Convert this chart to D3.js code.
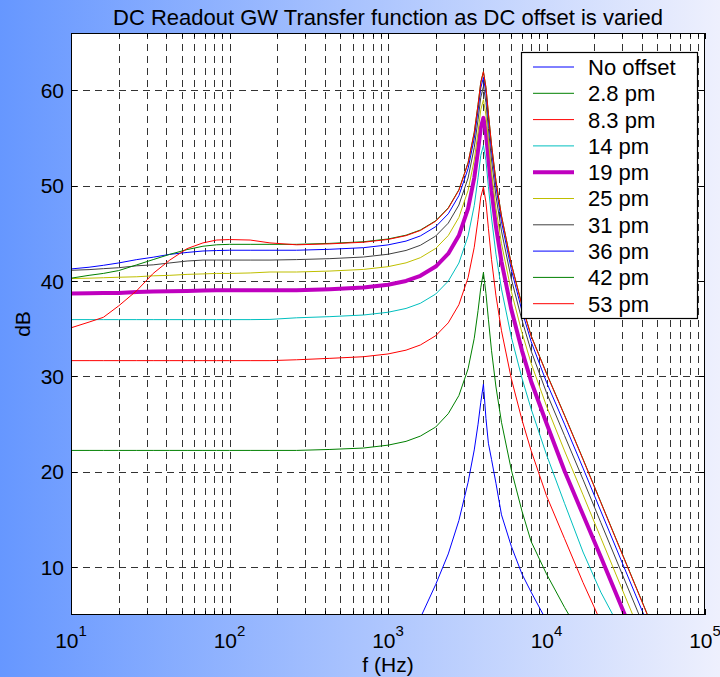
<!DOCTYPE html>
<html><head><meta charset="utf-8">
<script src="https://cdn.jsdelivr.net/npm/d3@7"></script>
<style>body{margin:0;background:#fff} svg{display:block}</style>
</head><body>
<script>
// ---------- data ----------
const freqs = [10, 13, 16, 20, 26, 33, 42, 54, 68, 83, 100, 135, 180, 265, 430, 700, 1000, 1300, 1600, 2000,
  2400, 2800, 3200, 3500, 3700, 3850, 4000, 4150, 4300, 4500, 4800, 5200, 6000, 7000, 8000, 10000,
  13000, 17000, 22000, 30000, 40000, 50000];

const seriesNames = ["No offset", "2.8 pm", "8.3 pm", "14 pm", "19 pm", "25 pm", "31 pm", "36 pm", "42 pm", "53 pm"];
const seriesColors = ["#0000ff", "#008000", "#ff0000", "#00bfbf", "#bf00bf", "#bfbf00", "#404040", "#0000ff", "#008000", "#ff0000"];
const seriesWidths = [1, 1, 1, 1, 4, 1, 1, 1, 1, 1];

const noOffset = [null, null, null, null, null, null, null, null, null, null, null, null, null, null, null, null, null,
  1.5, 4.7, 8.2, 11.4, 14.9, 18.9, 22.3, 25.0, 27.3, 29.2, 25.6, 23.0, 21.3, 18.8, 15.5, 12.2, 9.3, 7.4, 4.4, 0.5,
  null, null, null, null, null];
const pm2_8 = [22.25, 22.25, 22.25, 22.25, 22.25, 22.25, 22.25, 22.25, 22.25, 22.25, 22.25, 22.25, 22.25, 22.25,
  22.35, 22.5, 22.8, 23.2, 23.75, 24.7, 26.1, 28.0, 30.8, 34.0, 36.9, 39.3, 40.9, 38.7, 36.0, 32.7, 28.9, 25.2,
  20.2, 15.9, 12.7, 9.3, 5.8, 2.5, -1, null, null, null];
const pm8_3 = [31.66, 31.66, 31.66, 31.66, 31.66, 31.66, 31.66, 31.66, 31.66, 31.66, 31.66, 31.66, 31.66, 31.75,
  31.9, 32.07, 32.36, 32.76, 33.3, 34.27, 35.62, 37.52, 40.35, 43.54, 46.46, 48.81, 49.86, 48.25, 45.54, 42.24,
  38.45, 34.79, 29.76, 25.46, 22.23, 17.5, 13.0, 8.4, 4.3, -1, null, null];
const pm14 = [35.96, 35.96, 35.96, 35.96, 35.96, 35.96, 35.96, 35.96, 35.96, 35.96, 35.96, 35.96, 35.98, 36.15,
  36.27, 36.44, 36.73, 37.13, 37.67, 38.64, 39.99, 41.89, 44.72, 47.91, 50.83, 53.18, 54.23, 52.62, 49.91, 46.61,
  42.82, 39.16, 34.13, 29.83, 26.6, 21.8, 16.7, 11.6, 7.4, 3.2, -2, null];
const pm19 = [38.7, 38.72, 38.75, 38.75, 38.85, 38.9, 38.92, 38.95, 39.0, 39.05, 39.05, 39.05, 39.05, 39.05,
  39.15, 39.32, 39.61, 40.01, 40.55, 41.52, 42.87, 44.77, 47.6, 50.79, 53.71, 56.06, 57.11, 55.5, 52.79, 49.49,
  45.7, 42.04, 37.01, 32.71, 29.48, 25.1, 20.1, 15.5, 11.1, 5.7, 0.7, null];
const pm25 = [40.26, 40.3, 40.35, 40.4, 40.45, 40.55, 40.6, 40.7, 40.75, 40.8, 40.8, 40.85, 40.95, 40.95,
  41.05, 41.22, 41.51, 41.91, 42.45, 43.42, 44.77, 46.67, 49.5, 52.69, 55.61, 57.96, 59.01, 57.4, 54.69, 51.39,
  47.6, 43.94, 38.91, 34.61, 31.38, 26.9, 22.2, 17.6, 13.1, 7.7, 2.7, null];
const pm31 = [41.13, 41.2, 41.3, 41.4, 41.6, 41.7, 41.9, 42.1, 42.2, 42.2, 42.2, 42.2, 42.2, 42.25,
  42.35, 42.52, 42.81, 43.21, 43.75, 44.72, 46.07, 47.97, 50.8, 53.99, 56.91, 59.26, 60.4, 58.7, 55.99, 52.69,
  48.9, 45.24, 40.21, 35.91, 32.68, 28.3, 23.8, 19.2, 14.7, 9.3, 4.3, 0.4];
const pm36 = [41.27, 41.45, 41.65, 41.9, 42.25, 42.5, 42.8, 43.0, 43.15, 43.2, 43.23, 43.23, 43.23, 43.23,
  43.33, 43.5, 43.79, 44.19, 44.73, 45.7, 47.05, 48.95, 51.78, 54.97, 57.89, 60.24, 61.35, 59.68, 56.97, 53.67,
  49.88, 46.22, 41.19, 36.89, 33.66, 29.4, 25.0, 20.4, 15.9, 10.5, 5.5, 1.6];
const pm42 = [40.3, 40.6, 40.8, 41.1, 41.7, 42.25, 42.8, 43.3, 43.65, 43.8, 43.85, 43.85, 43.85, 43.85,
  43.95, 44.12, 44.41, 44.81, 45.35, 46.32, 47.67, 49.57, 52.4, 55.59, 58.51, 60.86, 61.95, 60.3, 57.59, 54.29,
  50.5, 46.84, 41.81, 37.51, 34.28, 30.35, 25.95, 21.35, 16.85, 11.45, 6.45, 2.55];
const pm53 = [35.1, 35.7, 36.2, 37.4, 39.0, 40.8, 42.2, 43.4, 44.0, 44.3, 44.35, 44.3, 44.0, 43.8,
  43.9, 44.07, 44.36, 44.76, 45.3, 46.27, 47.62, 49.52, 52.35, 55.54, 58.46, 60.81, 61.95, 60.25, 57.54, 54.24,
  50.45, 46.79, 41.76, 37.46, 34.23, 30.3, 25.9, 21.3, 16.8, 11.4, 6.4, 2.5];

const seriesValues = [noOffset, pm2_8, pm8_3, pm14, pm19, pm25, pm31, pm36, pm42, pm53];

const yTicks = [10, 20, 30, 40, 50, 60];
const xMajorTicks = [10, 100, 1000, 10000, 100000];
const xTickExponents = ["1", "2", "3", "4", "5"];
const titleText = "DC Readout GW Transfer function as DC offset is varied";
const xLabel = "f (Hz)";
const yLabel = "dB";

// ---------- layout ----------
const W = 720, H = 677;
const L = 71, R = 705, T = 33, B = 615;
const FONT = "'Liberation Sans', Arial, Helvetica, sans-serif";

const x = d3.scaleLog().domain([10, 1e5]).range([L, R]);
const y = d3.scaleLinear().domain([5, 66]).range([B, T]);

const svg = d3.select("body").append("svg").attr("width", W).attr("height", H);
const defs = svg.append("defs");
const grad = defs.append("linearGradient").attr("id", "bg").attr("x1", "0").attr("x2", "1").attr("y1", "0").attr("y2", "0");
grad.append("stop").attr("offset", "0").attr("stop-color", "#6697ff");
grad.append("stop").attr("offset", "1").attr("stop-color", "#eef0fd");
defs.append("clipPath").attr("id", "plotclip").append("rect")
  .attr("x", L).attr("y", T).attr("width", R - L).attr("height", B - T);

svg.append("rect").attr("width", W).attr("height", H).attr("fill", "url(#bg)");
svg.append("rect").attr("x", L).attr("y", T).attr("width", R - L).attr("height", B - T).attr("fill", "#fff");

// grid
const allXTicks = x.ticks().filter(v => v > 10 && v < 1e5);
const grid = svg.append("g").attr("stroke", "#333").attr("stroke-width", 1)
  .attr("stroke-dasharray", "7,5").attr("shape-rendering", "crispEdges");
grid.selectAll("line.vx").data(allXTicks).join("line")
  .attr("x1", d => Math.round(x(d)) + 0.5).attr("x2", d => Math.round(x(d)) + 0.5)
  .attr("y1", B).attr("y2", T);
grid.selectAll("line.hy").data(yTicks).join("line")
  .attr("x1", L).attr("x2", R)
  .attr("y1", d => Math.round(y(d)) + 0.5).attr("y2", d => Math.round(y(d)) + 0.5);

// curves
const line = d3.line()
  .defined(d => d[1] !== null)
  .x(d => x(d[0])).y(d => y(d[1]));
const curves = svg.append("g").attr("clip-path", "url(#plotclip)");
seriesValues.forEach((vals, i) => {
  curves.append("path")
    .datum(freqs.map((f, k) => [f, vals[k]]))
    .attr("d", line)
    .attr("fill", "none")
    .attr("stroke", seriesColors[i])
    .attr("stroke-width", seriesWidths[i])
    .attr("stroke-linejoin", "round");
});

// axes box + ticks (inward, all four sides)
const axes = svg.append("g").attr("stroke", "#000").attr("shape-rendering", "crispEdges");
axes.append("rect").attr("x", L + 0.5).attr("y", T + 0.5).attr("width", R - L - 1).attr("height", B - T - 1)
  .attr("fill", "none").attr("stroke-width", 1.2);
const majSet = new Set(xMajorTicks);
x.ticks().forEach(v => {
  const px = Math.round(x(v)) + 0.5;
  const len = majSet.has(v) ? 6 : 4;
  axes.append("line").attr("x1", px).attr("x2", px).attr("y1", B).attr("y2", B - len);
  axes.append("line").attr("x1", px).attr("x2", px).attr("y1", T).attr("y2", T + len);
});
yTicks.forEach(v => {
  const py = Math.round(y(v)) + 0.5;
  axes.append("line").attr("x1", L).attr("x2", L + 6).attr("y1", py).attr("y2", py);
  axes.append("line").attr("x1", R).attr("x2", R - 6).attr("y1", py).attr("y2", py);
});

// tick labels
const txt = svg.append("g").attr("font-family", FONT).attr("fill", "#000");
txt.selectAll("text.yl").data(yTicks).join("text")
  .attr("x", L - 7).attr("y", d => y(d)).attr("dy", "0.36em")
  .attr("text-anchor", "end").attr("font-size", 21).text(d => d);
xMajorTicks.forEach((v, i) => {
  const t = txt.append("text").attr("x", x(v)).attr("y", 648).attr("text-anchor", "middle").attr("font-size", 21);
  t.append("tspan").text("10");
  t.append("tspan").attr("dy", -12).attr("font-size", 15).text(xTickExponents[i]);
});

// titles
txt.append("text").attr("x", (L + R) / 2).attr("y", 25).attr("text-anchor", "middle")
  .attr("font-size", 22).text(titleText);
txt.append("text").attr("x", (L + R) / 2).attr("y", 672).attr("text-anchor", "middle")
  .attr("font-size", 21).text(xLabel);
txt.append("text").attr("transform", `translate(30,${(T + B) / 2}) rotate(-90)`)
  .attr("text-anchor", "middle").attr("font-size", 21).text(yLabel);

// legend
const lg = svg.append("g");
const LX = 521, LY = 52, LW = 176, LH = 266, rowH = 26.3, row0 = 67;
lg.append("rect").attr("x", LX + 0.5).attr("y", LY + 0.5).attr("width", LW).attr("height", LH)
  .attr("fill", "#fff").attr("stroke", "#000").attr("stroke-width", 1.2);
seriesNames.forEach((name, i) => {
  const yy = row0 + i * rowH;
  lg.append("line").attr("x1", 533).attr("x2", 574).attr("y1", yy).attr("y2", yy)
    .attr("stroke", seriesColors[i]).attr("stroke-width", seriesWidths[i]);
  lg.append("text").attr("x", 588).attr("y", yy).attr("dy", "0.36em")
    .attr("font-family", FONT).attr("font-size", 22).text(name);
});
</script>
</body></html>
